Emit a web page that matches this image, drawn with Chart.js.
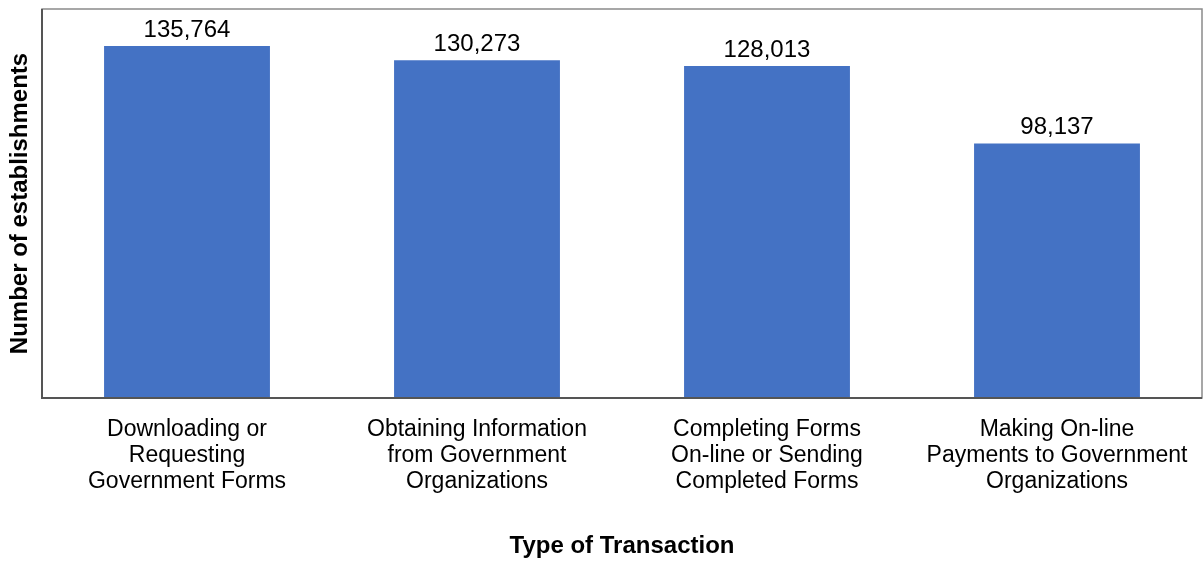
<!DOCTYPE html>
<html>
<head>
<meta charset="utf-8">
<script src="https://cdn.jsdelivr.net/npm/chart.js@4/dist/chart.umd.min.js"></script>
<style>
  html, body { margin: 0; padding: 0; background: #fff; }
  #wrap { width: 1204px; height: 561px; }
</style>
</head>
<body>
<div id="wrap"><canvas id="chart" width="1204" height="561"></canvas></div>
<script>
// chart data
const categories = [
    ['Downloading or', 'Requesting', 'Government Forms'],
    ['Obtaining Information', 'from Government', 'Organizations'],
    ['Completing Forms', 'On-line or Sending', 'Completed Forms'],
    ['Making On-line', 'Payments to Government', 'Organizations']
];
const establishments = [135764, 130273, 128013, 98137];
const yMax = 150000;

const FONT = 'Arial, "Liberation Sans", sans-serif';

// value labels above each bar
const valueLabels = {
    id: 'valueLabels',
    afterDatasetsDraw(chart) {
        const ctx = chart.ctx;
        const meta = chart.getDatasetMeta(0);
        ctx.save();
        ctx.font = '24px ' + FONT;
        ctx.fillStyle = '#000';
        ctx.textAlign = 'center';
        ctx.textBaseline = 'alphabetic';
        meta.data.forEach((bar, i) => {
            ctx.fillText(establishments[i].toLocaleString('en-US'), bar.x, bar.y - 9);
        });
        ctx.restore();
    }
};

// frame round the plot area
const plotFrame = {
    id: 'plotFrame',
    afterDraw(chart) {
        const { ctx, chartArea: a } = chart;
        ctx.save();
        ctx.strokeStyle = '#8a8a8a';
        ctx.lineWidth = 1.5;
        ctx.strokeRect(a.left, a.top, a.right - a.left, a.bottom - a.top);
        ctx.strokeStyle = '#555';
        ctx.lineWidth = 2;
        ctx.beginPath();
        ctx.moveTo(a.left, a.top);
        ctx.lineTo(a.left, a.bottom);
        ctx.lineTo(a.right, a.bottom);
        ctx.stroke();
        ctx.restore();
    }
};

new Chart(document.getElementById('chart'), {
    type: 'bar',
    data: {
        labels: categories,
        datasets: [{
            data: establishments,
            backgroundColor: '#4472C4',
            borderWidth: 0,
            categoryPercentage: 1,
            barPercentage: 0.572
        }]
    },
    options: {
        responsive: false,
        animation: false,
        layout: { padding: { top: 9, right: 2, left: 0, bottom: 0 } },
        plugins: {
            legend: { display: false },
            tooltip: { enabled: false }
        },
        scales: {
            x: {
                grid: { display: false },
                border: { display: false },
                ticks: {
                    color: '#000',
                    font: { family: FONT, size: 23, lineHeight: 1.15 },
                    padding: 10,
                    maxRotation: 0,
                    autoSkip: false
                },
                title: {
                    display: true,
                    text: 'Type of Transaction',
                    color: '#000',
                    font: { family: FONT, size: 24, weight: 'bold' },
                    padding: { top: 0, bottom: 0 }
                },
                afterFit(scale) { scale.height = 163; }
            },
            y: {
                min: 0,
                max: yMax,
                grid: { display: false },
                border: { display: false },
                ticks: { display: false },
                title: {
                    display: true,
                    text: 'Number of establishments',
                    color: '#000',
                    font: { family: FONT, size: 24, weight: 'bold' },
                    padding: { top: 6, bottom: 0 }
                },
                afterFit(scale) { scale.width = 42; }
            }
        }
    },
    plugins: [valueLabels, plotFrame]
});
</script>
</body>
</html>
